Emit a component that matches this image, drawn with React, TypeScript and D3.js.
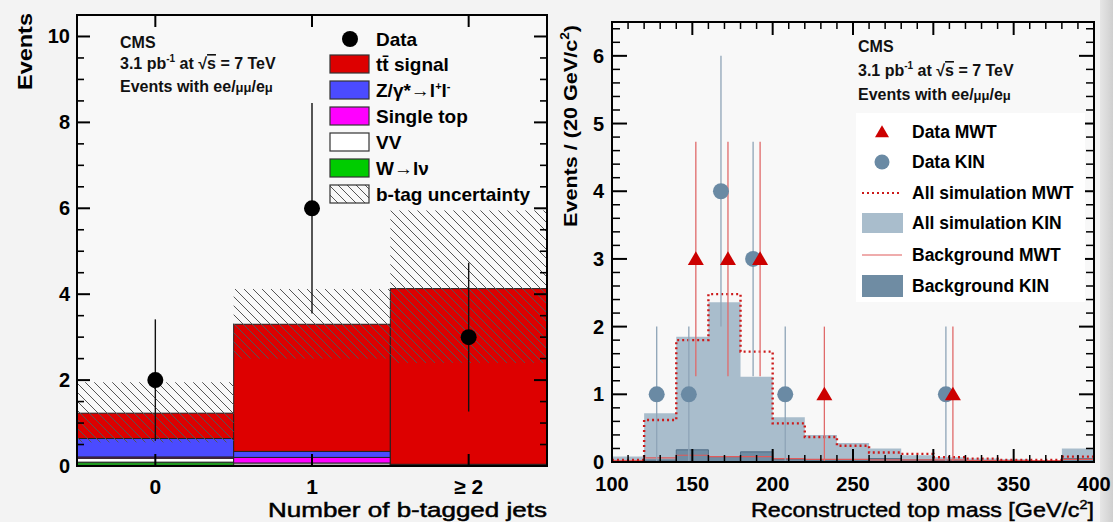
import * as d3 from 'd3';

// left panel: number of b-tagged jets
const bCats = ['0', '1', '≥ 2'];
const wJets = [0.09, 0.02, 0.0];
const vvBkg = [0.09, 0.05, 0.01];
const singleTop = [0.03, 0.13, 0.02];
const zJets = [0.43, 0.14, 0.01];
const ttSignal = [0.59, 2.96, 4.09];
const btagLow = [0.55, 2.5, 2.4];
const btagHigh = [1.95, 4.12, 5.95];
const dataB = [2, 6, 3];
const leftYTicks = [0, 2, 4, 6, 8, 10];

// right panel: reconstructed top mass, 20 GeV bins
const massEdges = [100, 120, 140, 160, 180, 200, 220, 240, 260, 280, 300, 320, 340, 360, 380, 400];
const allSimKin = [0.08, 0.72, 1.85, 2.36, 1.26, 0.66, 0.4, 0.28, 0.2, 0.1, 0.07, 0.05, 0.04, 0.03, 0.2];
const allSimMwt = [0.03, 0.62, 1.8, 2.48, 1.63, 0.57, 0.37, 0.24, 0.14, 0.12, 0.07, 0.05, 0.03, 0.03, 0.08];
const bkgKin = [0.02, 0.03, 0.18, 0.08, 0.15, 0.04, 0.03, 0.03, 0.05, 0.03, 0.02, 0.02, 0.02, 0.02, 0.05];
const bkgMwt = [0.02, 0.06, 0.1, 0.08, 0.08, 0.05, 0.04, 0.04, 0.03, 0.03, 0.03, 0.02, 0.02, 0.02, 0.04];
const kinMass = [130, 150, 170, 190, 210, 310];
const kinCount = [1, 1, 4, 3, 1, 1];
const mwtMass = [150, 170, 190, 230, 310];
const mwtCount = [3, 3, 3, 1, 1];
const rightYTicks = [0, 1, 2, 3, 4, 5, 6];
const rightXTicks = [100, 150, 200, 250, 300, 350, 400];

const FONT = '"Liberation Sans", Arial, Helvetica, sans-serif';

const L = { left: 77, right: 547, top: 15, bottom: 466 };
const R = { left: 612, right: 1094, top: 22, bottom: 462 };

const xL = d3.scaleLinear().domain([-0.5, 2.5]).range([L.left, L.right]);
const yL = d3.scaleLinear().domain([0, 10.5]).range([L.bottom, L.top]);
const xR = d3.scaleLinear().domain([100, 400]).range([R.left, R.right]);
const yR = d3.scaleLinear().domain([0, 6.5]).range([R.bottom, R.top]);

const stackLayers = [
  { key: 'w', vals: wJets, fill: '#1f9a1f' },
  { key: 'vv', vals: vvBkg, fill: '#ffffff' },
  { key: 'st', vals: singleTop, fill: '#ff00ff' },
  { key: 'z', vals: zJets, fill: '#4b4bff' },
  { key: 'tt', vals: ttSignal, fill: '#dd0000' },
];

// step outline of a histogram (edges + bin values)
function histPath(edges: number[], vals: number[], x: any, y: any, closed: boolean) {
  const pts: [number, number][] = vals.map((v, i) => [edges[i], v]);
  pts.push([edges[edges.length - 1], vals[vals.length - 1]]);
  if (closed) {
    return d3.area<[number, number]>()
      .x(d => x(d[0])).y0(y(0)).y1(d => y(d[1]))
      .curve(d3.curveStepAfter)(pts);
  }
  return d3.line<[number, number]>()
    .x(d => x(d[0])).y(d => y(d[1]))
    .curve(d3.curveStepAfter)(pts);
}

function tri(cx: number, cy: number, s: number) {
  return `M${cx},${cy - s * 0.95} L${cx + s},${cy + s * 0.75} L${cx - s},${cy + s * 0.75} Z`;
}

function LeftPanel() {
  let cum = [0, 0, 0];
  const layers = stackLayers.map(l => {
    const base = cum.slice();
    cum = cum.map((c, i) => c + l.vals[i]);
    return { ...l, base, top: cum.slice() };
  });
  const minor = d3.range(0, 10.51, 0.5).filter(v => v % 2 !== 0);
  const legendRows = [
    { label: 'signal', fill: '#dd0000', kind: 'tt' },
    { label: 'Z/γ*', fill: '#4b4bff', kind: 'z' },
    { label: 'Single top', fill: '#ff00ff', kind: 'plain' },
    { label: 'VV', fill: '#ffffff', kind: 'plain' },
    { label: 'W', fill: '#00cc00', kind: 'w' },
    { label: 'b-tag uncertainty', fill: 'url(#hatch)', kind: 'plain' },
  ];
  return (
    <g>
      <rect x={L.left} y={L.top} width={L.right - L.left} height={L.bottom - L.top} fill="#f8f8f8" />
      {layers.map(l => bCats.map((c, i) => {
        const h = yL(l.base[i]) - yL(l.top[i]);
        if (h <= 0) return null;
        return (
          <rect key={l.key + i} x={xL(i - 0.5)} width={xL(i + 0.5) - xL(i - 0.5)}
            y={yL(l.top[i])} height={h} fill={l.fill} stroke="#222" strokeWidth={1} />
        );
      }))}
      {bCats.map((c, i) => (
        <rect key={'h' + i} x={xL(i - 0.5)} width={xL(i + 0.5) - xL(i - 0.5)}
          y={yL(btagHigh[i])} height={yL(btagLow[i]) - yL(btagHigh[i])} fill="url(#hatch)" />
      ))}
      {dataB.map((v, i) => (
        <g key={'d' + i}>
          <line x1={xL(i)} x2={xL(i)} y1={yL(Math.max(0, v - Math.sqrt(v)))} y2={yL(v + Math.sqrt(v))}
            stroke="#111" strokeWidth={1.4} />
          <circle cx={xL(i)} cy={yL(v)} r={8} fill="#000" />
        </g>
      ))}
      {/* ticks */}
      {leftYTicks.map(t => (
        <g key={'yt' + t}>
          <line x1={L.left} x2={L.left + 13} y1={yL(t)} y2={yL(t)} stroke="#000" strokeWidth={2} />
          <line x1={L.right} x2={L.right - 13} y1={yL(t)} y2={yL(t)} stroke="#000" strokeWidth={2} />
          <text x={70} y={yL(t) + 7} textAnchor="end" fontSize={20} fontWeight="bold">{t}</text>
        </g>
      ))}
      {minor.map(t => (
        <g key={'ym' + t}>
          <line x1={L.left} x2={L.left + 7} y1={yL(t)} y2={yL(t)} stroke="#000" strokeWidth={1.6} />
          <line x1={L.right} x2={L.right - 7} y1={yL(t)} y2={yL(t)} stroke="#000" strokeWidth={1.6} />
        </g>
      ))}
      {bCats.map((c, i) => (
        <g key={'xt' + i}>
          <line x1={xL(i)} x2={xL(i)} y1={L.bottom} y2={L.bottom - 12} stroke="#000" strokeWidth={2} />
          <line x1={xL(i)} x2={xL(i)} y1={L.top} y2={L.top + 12} stroke="#000" strokeWidth={2} />
          <text x={xL(i)} y={494} textAnchor="middle" fontSize={21} fontWeight="bold">{c}</text>
        </g>
      ))}
      <rect x={L.left} y={L.top} width={L.right - L.left} height={L.bottom - L.top} fill="none" stroke="#000" strokeWidth={2} />
      <text transform={`translate(32,13) rotate(-90)`} textAnchor="end" fontSize={21} fontWeight="bold"
        textLength={77} lengthAdjust="spacingAndGlyphs">Events</text>
      <text x={L.right} y={517} textAnchor="end" fontSize={21} textLength={279} lengthAdjust="spacingAndGlyphs"
        stroke="#000" strokeWidth={0.5}>Number of b-tagged jets</text>
      {/* header */}
      <g fontSize={16} fontWeight="bold" fill="#111">
        <text x={120} y={48}>CMS</text>
        <text x={120} y={69}>3.1 pb<tspan fontSize={10} dy={-7}>-1</tspan><tspan dy={7}> at √</tspan>
          <tspan textDecoration="overline">s</tspan> = 7 TeV</text>
        <text x={120} y={92}>Events with ee/<tspan fontSize={13}>μμ</tspan>/e<tspan fontSize={13}>μ</tspan></text>
      </g>
      {/* legend */}
      <circle cx={350} cy={39} r={8} fill="#000" />
      <text x={376} y={46} fontSize={19} fontWeight="bold">Data</text>
      {legendRows.map((r, i) => {
        const cy = 64 + i * 26;
        return (
          <g key={'lg' + i}>
            <rect x={330} y={cy - 9} width={39} height={18} fill={r.fill} stroke="#333" strokeWidth={1.2} />
            <text x={376} y={cy + 7} fontSize={19} fontWeight="bold">
              {r.kind === 'tt' && <tspan>tt̄ </tspan>}
              {r.kind === 'w' && <tspan>W→lν</tspan>}
              {r.kind === 'z' && <tspan>Z/γ*→l<tspan fontSize={11} dy={-7}>+</tspan><tspan dy={7}>l</tspan><tspan fontSize={11} dy={-7}>-</tspan></tspan>}
              {r.kind !== 'w' && r.kind !== 'z' && r.label}
            </text>
          </g>
        );
      })}
    </g>
  );
}

function RightPanel() {
  const majorX = rightXTicks;
  const minorX = d3.range(100, 401, 10).filter(v => v % 50 !== 0);
  const minorY = d3.range(0, 6.5, 0.2).map(v => Math.round(v * 10) / 10).filter(v => Math.abs(v - Math.round(v)) > 0.01);
  const off = 3.5;
  const lx = 862;
  const legendRows = [132, 162, 193, 223, 255, 286];
  return (
    <g>
      <rect x={R.left} y={R.top} width={R.right - R.left} height={R.bottom - R.top} fill="#f8f8f8" />
      <path d={histPath(massEdges, allSimKin, xR, yR, true) as string} fill="#a9bdcc" />
      <path d={histPath(massEdges, bkgKin, xR, yR, true) as string} fill="#6f8ca3" stroke="#506d85" strokeWidth={1} />
      <path d={histPath(massEdges, bkgMwt, xR, yR, false) as string} fill="none" stroke="#e05a5a" strokeWidth={1.2} />
      <path d={histPath(massEdges, allSimMwt, xR, yR, false) as string} fill="none" stroke="#cc1a1a"
        strokeWidth={2.4} strokeDasharray="2,3" />
      {kinMass.map((m, i) => {
        const v = kinCount[i];
        const e = Math.sqrt(v);
        return (
          <line key={'ke' + i} x1={xR(m) - off} x2={xR(m) - off} y1={yR(v - e)} y2={yR(v + e)}
            stroke="#8ea4b7" strokeWidth={1.3} />
        );
      })}
      {mwtMass.map((m, i) => {
        const v = mwtCount[i];
        const e = Math.sqrt(v);
        return (
          <line key={'me' + i} x1={xR(m) + off} x2={xR(m) + off} y1={yR(v - e)} y2={yR(v + e)}
            stroke="#e06a6a" strokeWidth={1.3} />
        );
      })}
      {kinMass.map((m, i) => (
        <circle key={'kc' + i} cx={xR(m) - off} cy={yR(kinCount[i])} r={8} fill="#6a8aa4" />
      ))}
      {mwtMass.map((m, i) => (
        <path key={'mt' + i} d={tri(xR(m) + off, yR(mwtCount[i]), 8)} fill="#cc0000" />
      ))}
      {/* ticks */}
      {rightYTicks.map(t => (
        <g key={'yt' + t}>
          <line x1={R.left} x2={R.left + 15} y1={yR(t)} y2={yR(t)} stroke="#000" strokeWidth={2} />
          <line x1={R.right} x2={R.right - 15} y1={yR(t)} y2={yR(t)} stroke="#000" strokeWidth={2} />
          <text x={604} y={yR(t) + 7} textAnchor="end" fontSize={20} fontWeight="bold">{t}</text>
        </g>
      ))}
      {minorY.map(t => (
        <g key={'ym' + t}>
          <line x1={R.left} x2={R.left + 8} y1={yR(t)} y2={yR(t)} stroke="#000" strokeWidth={1.5} />
          <line x1={R.right} x2={R.right - 8} y1={yR(t)} y2={yR(t)} stroke="#000" strokeWidth={1.5} />
        </g>
      ))}
      {majorX.map(t => (
        <g key={'xt' + t}>
          <line x1={xR(t)} x2={xR(t)} y1={R.bottom} y2={R.bottom - 13} stroke="#000" strokeWidth={2} />
          <line x1={xR(t)} x2={xR(t)} y1={R.top} y2={R.top + 13} stroke="#000" strokeWidth={2} />
          <text x={xR(t)} y={491} textAnchor="middle" fontSize={20} fontWeight="bold">{t}</text>
        </g>
      ))}
      {minorX.map(t => (
        <g key={'xm' + t}>
          <line x1={xR(t)} x2={xR(t)} y1={R.bottom} y2={R.bottom - 7} stroke="#000" strokeWidth={1.5} />
          <line x1={xR(t)} x2={xR(t)} y1={R.top} y2={R.top + 7} stroke="#000" strokeWidth={1.5} />
        </g>
      ))}
      <rect x={R.left} y={R.top} width={R.right - R.left} height={R.bottom - R.top} fill="none" stroke="#000" strokeWidth={2} />
      <text transform={`translate(577,25) rotate(-90)`} textAnchor="end" fontSize={19} fontWeight="bold"
        textLength={202} lengthAdjust="spacingAndGlyphs">Events / (20 GeV/c<tspan fontSize={12} dy={-8}>2</tspan><tspan dy={8}>)</tspan></text>
      <text x={R.right} y={517} textAnchor="end" fontSize={21} stroke="#000" strokeWidth={0.5} textLength={343}
        lengthAdjust="spacingAndGlyphs">Reconstructed top mass [GeV/c<tspan fontSize={13} dy={-8}>2</tspan><tspan dy={8}>]</tspan></text>
      {/* header */}
      <g fontSize={16} fontWeight="bold" fill="#111">
        <text x={858} y={52}>CMS</text>
        <text x={858} y={76}>3.1 pb<tspan fontSize={10} dy={-7}>-1</tspan><tspan dy={7}> at √</tspan>
          <tspan textDecoration="overline">s</tspan> = 7 TeV</text>
        <text x={858} y={100}>Events with ee/<tspan fontSize={13}>μμ</tspan>/e<tspan fontSize={13}>μ</tspan></text>
      </g>
      {/* legend */}
      <rect x={856} y={113} width={229} height={189} fill="#ffffff" />
      <path d={tri(lx + 20, legendRows[0], 7)} fill="#cc0000" />
      <circle cx={lx + 20} cy={legendRows[1]} r={7.5} fill="#6a8aa4" />
      <line x1={lx} x2={lx + 40} y1={legendRows[2]} y2={legendRows[2]} stroke="#cc1a1a" strokeWidth={2.2} strokeDasharray="2,3" />
      <rect x={lx} y={legendRows[3] - 10} width={41} height={20} fill="#a9bdcc" />
      <line x1={lx} x2={lx + 40} y1={legendRows[4]} y2={legendRows[4]} stroke="#e05a5a" strokeWidth={1.2} />
      <rect x={lx} y={legendRows[5] - 11} width={41} height={22} fill="#6f8ca3" />
      {['Data MWT', 'Data KIN', 'All simulation MWT', 'All simulation KIN', 'Background MWT', 'Background KIN'].map((s, i) => (
        <text key={'rl' + i} x={912} y={legendRows[i] + 6} fontSize={17.5} fontWeight="bold">{s}</text>
      ))}
    </g>
  );
}

export default function App() {
  return (
    <div style={{ position: 'absolute', left: 0, top: 0 }}>
      <svg width={1113} height={522} style={{ display: 'block', fontFamily: FONT }}>
        <defs>
          <pattern id="hatch" patternUnits="userSpaceOnUse" width={9} height={9}>
            <path d="M0,0 L9,9 M-2,7 L2,11 M7,-2 L11,2" stroke="#555" strokeWidth={1} />
          </pattern>
          <linearGradient id="edge" x1="0" x2="1" y1="0" y2="0">
            <stop offset="0%" stopColor="#e6e6e6" />
            <stop offset="100%" stopColor="#cfcfcf" />
          </linearGradient>
        </defs>
        <rect x={0} y={0} width={1113} height={522} fill="#f3f3f3" />
        <rect x={1100} y={0} width={13} height={522} fill="url(#edge)" />
        <LeftPanel />
        <RightPanel />
      </svg>
    </div>
  );
}
